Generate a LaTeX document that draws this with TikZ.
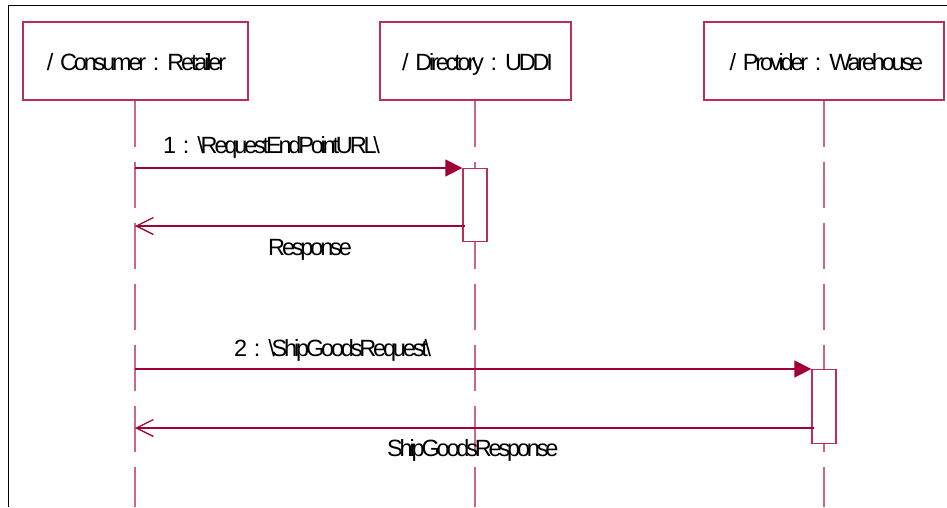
\documentclass[tikz,border=0pt]{standalone}
\usepackage{fontspec}
\setmainfont{Liberation Sans}
\newfontfamily\umlfont[LetterSpace=-13.5,WordSpace=2.0]{Liberation Sans}
\usetikzlibrary{arrows.meta}
\definecolor{boxline}{RGB}{185,45,95}
\definecolor{msgline}{RGB}{160,0,55}
\definecolor{lifecol}{RGB}{205,100,140}
\tikzset{
  objbox/.style={draw=boxline, line width=1.3pt, fill=white, minimum height=78pt, inner sep=0pt, text depth=0pt},
  actbox/.style={draw=boxline, line width=1.3pt, fill=white, minimum width=24pt, inner sep=0pt},
  lifeline/.style={draw=lifecol, line width=1.2pt, dash pattern=on 46pt off 15pt},
  callmsg/.style={draw=msgline, line width=1.3pt, -{Triangle[length=17pt,width=17pt]}},
  retmsg/.style={draw=msgline, line width=1.3pt, -{Straight Barb[length=17pt,width=17pt,line width=1.3pt]}},
  lbl/.style={anchor=base west, inner sep=0pt, font=\umlfont\fontsize{23.5}{28}\selectfont}
}
\begin{document}
\begin{tikzpicture}[x=1pt,y=-1pt]
\useasboundingbox (0,0) rectangle (947,507);
\fill[white] (0,0) rectangle (947,507);
% frame
\draw[black, line width=1pt] (8,507) -- (8,5) -- (947,5);
% lifeline ends
\coordinate (cEnd) at (135,507);
\coordinate (dEnd) at (475,507);
\coordinate (pEnd) at (824,507);
% object boxes
\node[objbox, minimum width=225pt] (cons) at (135.5,61) {};
\node[objbox, minimum width=191pt] (dir) at (475.5,61) {};
\node[objbox, minimum width=240pt] (prov) at (824,61) {};
% lifelines
\draw[lifeline] (cons.south -| cEnd) -- (cEnd);
\draw[lifeline] (dir.south -| dEnd) -- (dEnd);
\draw[lifeline] (prov.south) -- (pEnd);
% box labels
\node[lbl, anchor=base] (consT) at (136.5,70) {/ Consumer : Retailer};
\node[lbl, anchor=base] (dirT) at (477.5,70) {/ Directory : UDDI};
\node[lbl, anchor=base] (provT) at (826.5,70) {/ Provider : Warehouse};
% activation boxes
\node[actbox, minimum height=73pt, anchor=north] (act1) at (475,168) {};
\node[actbox, minimum height=74pt, anchor=north] (act2) at (824,369) {};
% message endpoints on consumer lifeline
\coordinate (m1s) at (135,168);
\coordinate (r1e) at (135,226);
\coordinate (m2s) at (135,369);
\coordinate (r2e) at (135,428);
\coordinate (r1s) at (465,226);
\coordinate (r2s) at (814,428);
% messages
\draw[callmsg] (m1s) -- (act1.north west);
\draw[retmsg] (r1s) -- (r1e);
\draw[callmsg] (m2s) -- (act2.north west);
\draw[retmsg] (r2s) -- (r2e);
% labels
\node[lbl] (l1) at (163,153) {1 : \textbackslash RequestEndPointURL\textbackslash};
\node[lbl] (l2) at (268,255) {Response};
\node[lbl] (l3) at (234,356) {2 : \textbackslash ShipGoodsRequest\textbackslash};
\node[lbl] (l4) at (387,456) {ShipGoodsResponse};
\end{tikzpicture}
\end{document}
